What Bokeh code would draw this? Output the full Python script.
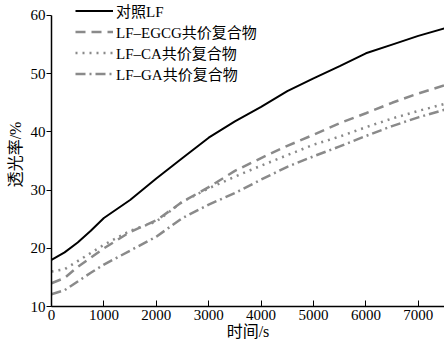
from bokeh.plotting import figure
from bokeh.models import Range1d, Legend, LegendItem
from bokeh.embed import file_html
from bokeh.resources import INLINE

time_s = [0, 250, 500, 750, 1000, 1500, 2000, 2500, 3000, 3500, 4000, 4500, 5000, 5500, 6000, 6500, 7000, 7500]
lf_control = [18.0, 19.3, 21.0, 23.0, 25.2, 28.3, 32.0, 35.5, 39.0, 41.8, 44.3, 47.0, 49.2, 51.3, 53.5, 55.0, 56.5, 57.8]
lf_egcg = [14.0, 14.9, 16.8, 18.4, 20.0, 22.8, 24.8, 28.0, 30.5, 33.3, 35.5, 37.6, 39.5, 41.5, 43.2, 45.0, 46.6, 48.0]
lf_ca = [16.0, 16.4, 17.8, 19.2, 20.6, 23.0, 24.6, 28.0, 30.3, 32.3, 34.2, 36.0, 37.8, 39.2, 40.8, 42.3, 43.6, 44.8]
lf_ga = [12.1, 12.8, 14.3, 15.8, 17.2, 19.6, 22.0, 25.2, 27.5, 29.5, 31.8, 34.0, 35.8, 37.5, 39.3, 41.0, 42.5, 43.8]

labels = ["对照LF", "LF–EGCG共价复合物", "LF–CA共价复合物", "LF–GA共价复合物"]
x_ticks = [0, 1000, 2000, 3000, 4000, 5000, 6000, 7000]
y_ticks = [10, 20, 30, 40, 50, 60]

FONT = "Liberation Serif, Noto Sans CJK SC"

p = figure(width=444, height=344, output_backend="svg", toolbar_location=None,
           x_range=Range1d(0, 7500), y_range=Range1d(10, 62.23),
           min_border_left=51, min_border_right=0, min_border_top=2, min_border_bottom=38)
p.outline_line_color = None
p.xgrid.visible = False
p.ygrid.visible = False
p.background_fill_color = "white"
p.border_fill_color = "white"

gray = "#8a8a8a"
r0 = p.line(time_s, lf_control, line_color="black", line_width=2)
r1 = p.line(time_s, lf_egcg, line_color=gray, line_width=2.5, line_dash="10 6")
r2 = p.line(time_s, lf_ca, line_color=gray, line_width=2.5, line_dash="2 5")
r3 = p.line(time_s, lf_ga, line_color=gray, line_width=2.5, line_dash="10 4 2 4")

legend = Legend(items=[LegendItem(label=labels[i], renderers=[r]) for i, r in enumerate([r0, r1, r2, r3])],
                location=(24, 222), padding=0, margin=0, spacing=0,
                glyph_width=38, glyph_height=19, label_height=19, label_standoff=3,
                label_text_font=FONT, label_text_font_size="15px", label_text_color="black",
                label_text_line_height=1.0,
                border_line_color=None, background_fill_alpha=0)
p.add_layout(legend)

for ax in (p.xaxis[0], p.yaxis[0]):
    ax.axis_line_color = "black"
    ax.axis_line_width = 1.5
    ax.major_tick_line_color = "black"
    ax.minor_tick_line_color = "black"
    ax.major_label_text_font = FONT
    ax.major_label_text_font_size = "15px"
    ax.major_label_text_color = "black"
    ax.axis_label_text_font = FONT
    ax.axis_label_text_font_size = "16px"
    ax.axis_label_text_font_style = "normal"
    ax.axis_label_text_color = "black"

p.xaxis.ticker = x_ticks
p.xaxis[0].ticker.num_minor_ticks = 2
p.xaxis.major_tick_in = 6
p.xaxis.major_tick_out = 0
p.xaxis.minor_tick_in = 4
p.xaxis.minor_tick_out = 0
p.xaxis.major_label_standoff = 3
p.xaxis.axis_label = "时间/s"
p.xaxis.axis_label_standoff = 0

p.yaxis.bounds = (10, 60)
p.yaxis.ticker = y_ticks
p.yaxis[0].ticker.num_minor_ticks = 2
p.yaxis.major_tick_in = 0
p.yaxis.major_tick_out = 5
p.yaxis.minor_tick_in = 0
p.yaxis.minor_tick_out = 3
p.yaxis.major_label_standoff = 1
p.yaxis.axis_label = "透光率/%"
p.yaxis.axis_label_standoff = 4

open("out.html", "w").write(file_html(p, INLINE))
